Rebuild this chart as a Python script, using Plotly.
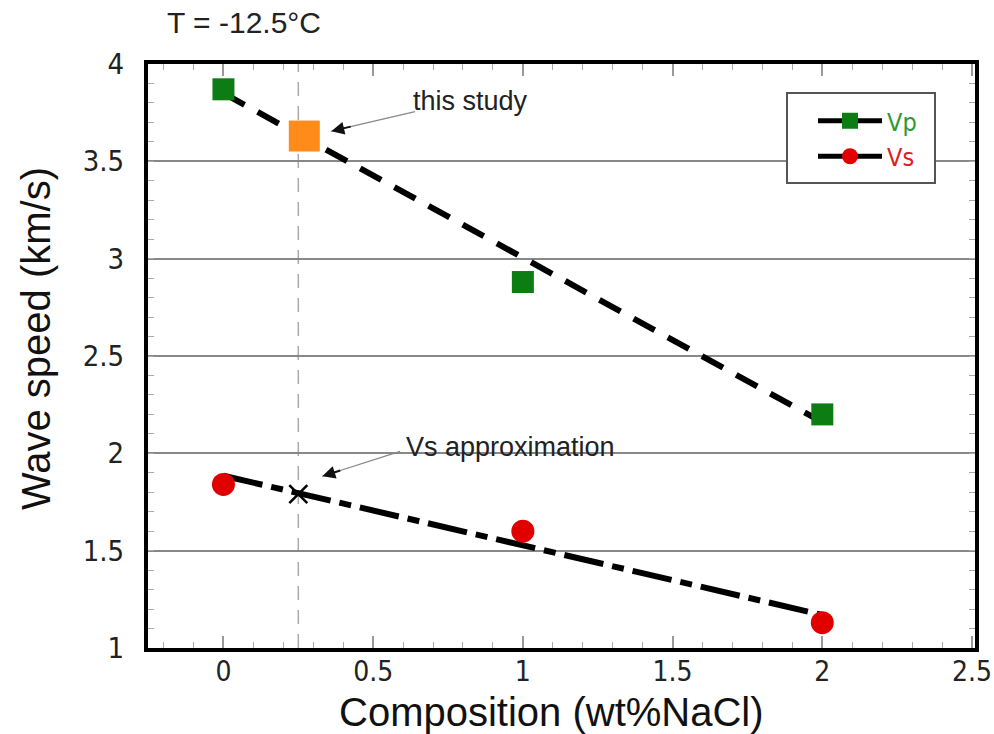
import plotly.graph_objects as go

# Measured wave speeds at -12.5 °C versus NaCl content
composition = [0, 1, 2]
vp = [3.87, 2.88, 2.20]
vs = [1.84, 1.60, 1.13]

# Linear trend lines (end points)
fit_x = [0, 2]
vp_fit = [3.85, 2.16]
vs_fit = [1.885, 1.17]

# This study's Vp and the interpolated Vs estimate
study_x = [0.27]
study_vp = [3.63]
approx_x = [0.25]
approx_vs = [1.79]
study_comp = 0.25

x_ticks = [0, 0.5, 1, 1.5, 2, 2.5]
y_ticks = [1, 1.5, 2, 2.5, 3, 3.5, 4]

FONT = "Liberation Sans, Arial, Helvetica, sans-serif"
NARROW = "DejaVu Sans Condensed, Liberation Sans, sans-serif"
GREEN = "#0b7d12"
RED = "#e00000"

W, H = 994, 734
L, R, T, B = 148, 19, 64, 86
PW, PH = W - L - R, H - T - B


def px(xp):
    return (xp - L) / PW


def py(yp):
    return (H - B - yp) / PH


fig = go.Figure()

# trend lines
fig.add_trace(go.Scatter(x=fit_x, y=vp_fit, mode="lines", showlegend=False,
                         line=dict(color="black", width=6, dash="24px,15px")))
fig.add_trace(go.Scatter(x=fit_x, y=vs_fit, mode="lines", showlegend=False,
                         line=dict(color="black", width=6, dash="40px,9px,12px,9px")))

# measured points
fig.add_trace(go.Scatter(x=composition, y=vp, mode="markers", showlegend=False,
                         marker=dict(symbol="square", size=22, color=GREEN)))
fig.add_trace(go.Scatter(x=composition, y=vs, mode="markers", showlegend=False,
                         marker=dict(symbol="circle", size=23, color=RED)))
fig.add_trace(go.Scatter(x=study_x, y=study_vp, mode="markers", showlegend=False,
                         marker=dict(symbol="square", size=31, color="#ff8c1a")))
fig.add_trace(go.Scatter(x=approx_x, y=approx_vs, mode="markers", showlegend=False,
                         marker=dict(symbol="x-thin", size=18,
                                     line=dict(color="black", width=2.5))))

# legend entries
fig.add_trace(go.Scatter(x=[None], y=[None], mode="lines+markers",
                         name="<span style='color:#2e9a2e'>Vp</span>",
                         line=dict(color="black", width=5),
                         marker=dict(symbol="square", size=20, color=GREEN)))
fig.add_trace(go.Scatter(x=[None], y=[None], mode="lines+markers",
                         name="<span style='color:#e02020'>Vs</span>",
                         line=dict(color="black", width=5),
                         marker=dict(symbol="circle", size=21, color=RED)))

# composition of the studied sample
fig.add_shape(type="line", xref="x", yref="paper", x0=study_comp, x1=study_comp,
              y0=0, y1=1, line=dict(color="#aaaaaa", width=1.5, dash="14px,10px"),
              layer="below")

# legend frame
fig.add_shape(type="rect", xref="paper", yref="paper",
              x0=px(787), x1=px(935), y0=py(183), y1=py(93),
              fillcolor="white", line=dict(color="#555555", width=2), layer="above")

# callouts
def callout(text, tx, ty, tail, head):
    fig.add_shape(type="line", xref="x", yref="y", x0=tail[0], y0=tail[1],
                  x1=head[0], y1=head[1], line=dict(color="#888888", width=1.2))
    fig.add_annotation(x=head[0], y=head[1], ax=head[0] + (tail[0] - head[0]) * 0.25,
                       ay=head[1] + (tail[1] - head[1]) * 0.25, axref="x", ayref="y",
                       text="", showarrow=True, arrowhead=2, arrowsize=1.3,
                       arrowwidth=2, arrowcolor="#111111")
    fig.add_annotation(x=tx, y=ty, text=text, showarrow=False,
                       font=dict(family=FONT, size=27, color="#222222"))

callout("this study", 0.825, 3.81, (0.64, 3.755), (0.36, 3.655))
callout("Vs approximation", 0.958, 2.03, (0.59, 2.01), (0.33, 1.882))

# axis titles
fig.add_annotation(xref="paper", yref="paper", x=px(551), y=py(712),
                   text="Composition (wt%NaCl)", showarrow=False,
                   xanchor="center", yanchor="middle",
                   font=dict(family=FONT, size=40, color="#111111"))
fig.add_annotation(xref="paper", yref="paper", x=px(36), y=py(339),
                   text="Wave speed (km/s)", showarrow=False, textangle=-90,
                   xanchor="center", yanchor="middle",
                   font=dict(family=FONT, size=40, color="#111111"))

fig.update_layout(
    width=W, height=H,
    margin=dict(l=L, r=R, t=T, b=B),
    paper_bgcolor="white", plot_bgcolor="white",
    font=dict(family=FONT, color="#222222"),
    title=dict(text="T = -12.5°C", x=244 / W, xanchor="center",
               y=1 - 22 / H, yanchor="middle",
               font=dict(family=FONT, size=30, color="#222222")),
    legend=dict(x=px(813), y=py(98), xanchor="left", yanchor="top",
                bgcolor="rgba(0,0,0,0)", borderwidth=0,
                font=dict(family=NARROW, size=25), itemwidth=64,
                tracegroupgap=0),
    xaxis=dict(range=[-0.252, 2.51], tickvals=x_ticks,
               ticktext=[f"{v:g}" for v in x_ticks],
               showgrid=False, zeroline=False, automargin=False,
               ticklabeloverflow="allow",
               showline=True, linewidth=4, linecolor="black", mirror="allticks",
               ticks="inside", ticklen=12, tickwidth=1.5, tickcolor="#999999",
               minor=dict(dtick=0.1, tick0=0, ticks="inside", ticklen=6,
                          tickwidth=1.2, tickcolor="#aaaaaa", showgrid=False),
               tickfont=dict(family=NARROW, size=28, color="#222222"),
               ticklabelstandoff=-5),
    yaxis=dict(range=[1, 4], tickvals=y_ticks,
               ticktext=[f"{v:g}" for v in y_ticks],
               showgrid=True, gridcolor="#888888", gridwidth=2, zeroline=False,
               automargin=False, ticklabeloverflow="allow",
               showline=True, linewidth=4, linecolor="black", mirror="allticks",
               ticks="inside", ticklen=6, tickwidth=1.2, tickcolor="#aaaaaa",
               minor=dict(dtick=0.1, tick0=0, ticks="inside", ticklen=6,
                          tickwidth=1.2, tickcolor="#aaaaaa", showgrid=False),
               tickfont=dict(family=NARROW, size=29, color="#222222"),
               ticklabelstandoff=14),
)

fig.write_html("out.html")
